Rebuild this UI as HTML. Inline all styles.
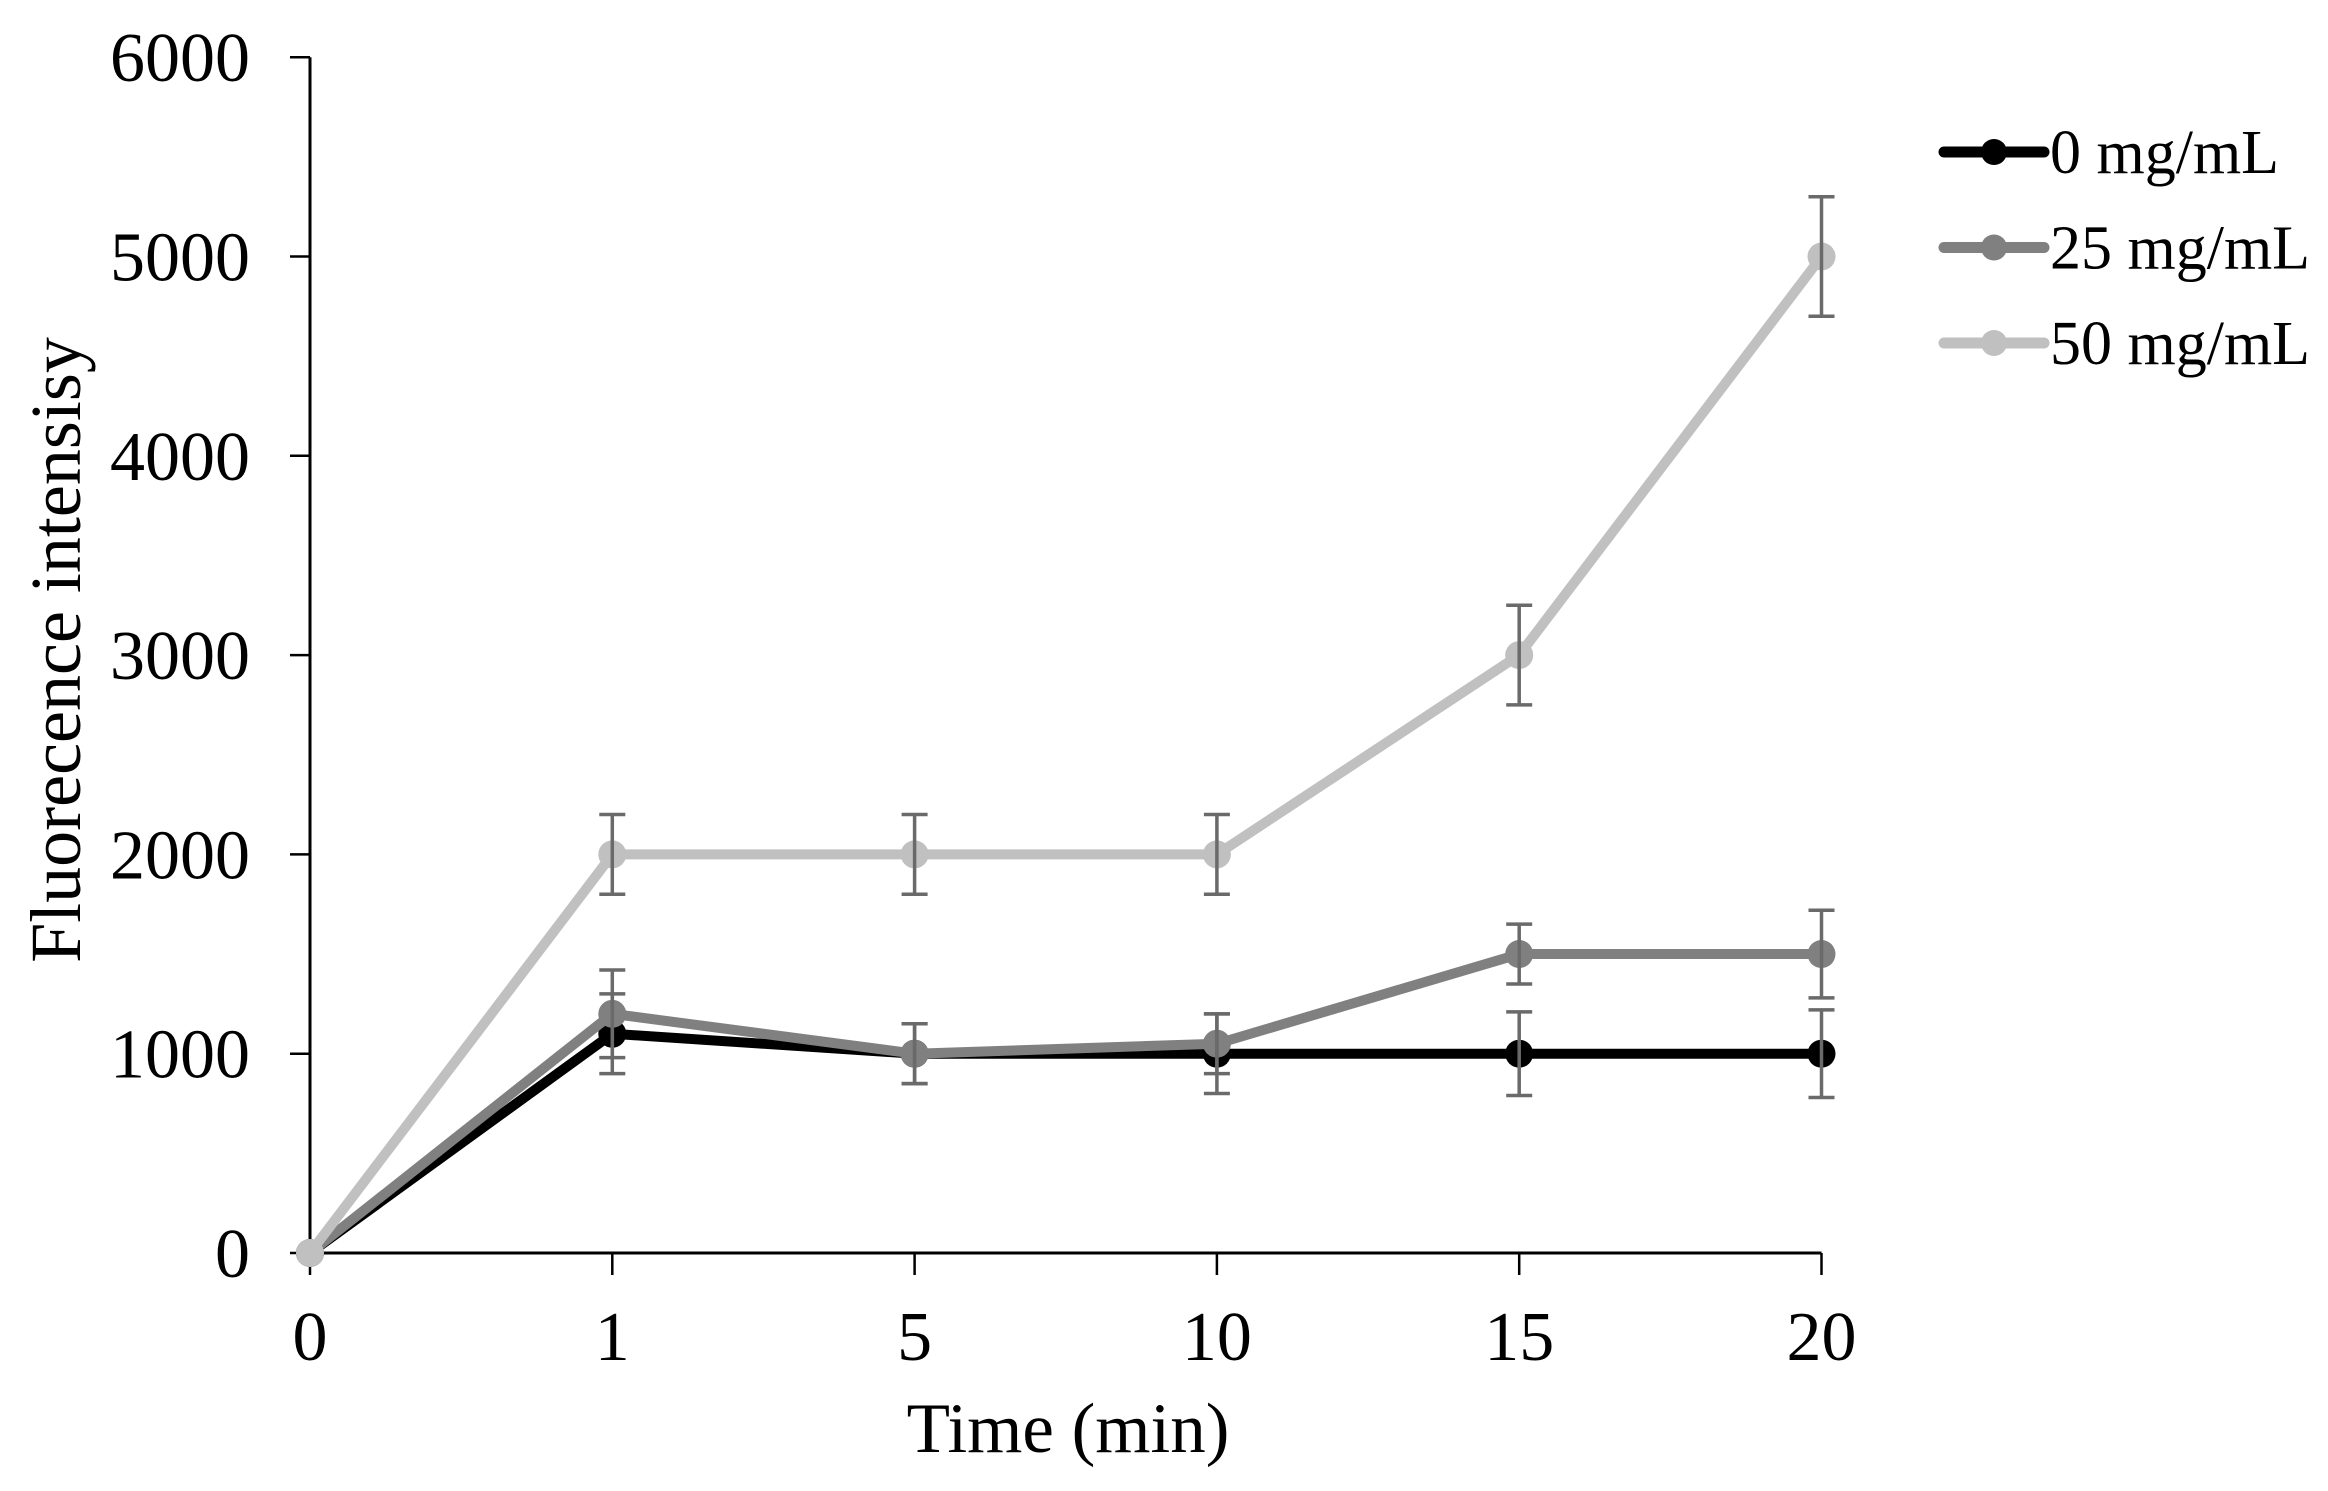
<!DOCTYPE html>
<html><head><meta charset="utf-8"><style>
html,body{margin:0;padding:0;background:#fff;}
svg{display:block;font-family:"Liberation Serif",serif;}
</style></head><body>
<svg id="chart" width="2328" height="1491" viewBox="0 0 2328 1491">
<g id="axes"></g><g id="series"></g><g id="legend"></g>
</svg>
<script>
const categories = ["0","1","5","10","15","20"];
const yTicks = [0,1000,2000,3000,4000,5000,6000];
const seriesNames = ["0 mg/mL","25 mg/mL","50 mg/mL"];
const seriesColors = ["#000000","#808080","#c0c0c0"];
const values0 = [0,1100,1000,1000,1000,1000];
const values25 = [0,1200,1000,1050,1500,1500];
const values50 = [0,2000,2000,2000,3000,5000];
const errors0 = [0,200,150,200,210,220];
const errors25 = [0,220,150,150,150,220];
const errors50 = [0,200,200,200,250,300];

const NS="http://www.w3.org/2000/svg";
const x0=310, dx=302.3, yBase=1253, yPer=199.3/1000;
function xs(i){return x0+i*dx;}
function ys(v){return yBase-v*yPer;}
function mk(tag,attrs,parent,text){const e=document.createElementNS(NS,tag);for(const k in attrs)e.setAttribute(k,attrs[k]);if(text!==undefined)e.textContent=text;parent.appendChild(e);return e;}
const axes=document.getElementById('axes');
let e;
e=mk('line',{x1:x0,y1:ys(6000),x2:x0,y2:yBase,stroke:'#000','stroke-width':3},axes);


e=mk('line',{x1:x0,y1:yBase,x2:xs(5),y2:yBase,stroke:'#000','stroke-width':3},axes);


yTicks.forEach(t=>{
  e=mk('line',{x1:x0-20,y1:ys(t),x2:x0,y2:ys(t),stroke:'#000','stroke-width':2.5},axes);
  
  
  e=mk('text',{x:250,y:ys(t)+24,'text-anchor':'end','font-size':70},axes,String(t));
  
  
});
categories.forEach((c,i)=>{
  e=mk('line',{x1:xs(i),y1:yBase,x2:xs(i),y2:yBase+22,stroke:'#000','stroke-width':2.5},axes);
  
  
  e=mk('text',{x:xs(i),y:1360,'text-anchor':'middle','font-size':70},axes,c);
  
  
});
e=mk('text',{x:1068,y:1452,'text-anchor':'middle','font-size':71},axes,'Time (min)');


e=mk('text',{x:0,y:0,'text-anchor':'middle','font-size':72,transform:'translate(80,650) rotate(-90)'},axes,'Fluorecence intensisy');



const allVals=[values0,values25,values50], allErr=[errors0,errors25,errors50];
const ser=document.getElementById('series');
allVals.forEach((vals,s)=>{
  const g=mk('g',{},ser);
  
  
  e=mk('polyline',{points:vals.map((v,i)=>xs(i)+','+ys(v)).join(' '),fill:'none',stroke:seriesColors[s],'stroke-width':10,'stroke-linejoin':'round'},g);
  
  
  vals.forEach((v,i)=>{
    e=mk('circle',{cx:xs(i),cy:ys(v),r:14,fill:seriesColors[s]},g);
    
    
  });
});
allVals.forEach((vals,s)=>{
  const g=mk('g',{stroke:'#6a6a6a','stroke-width':3.5,fill:'none'},ser);
  
  
  vals.forEach((v,i)=>{
    const er=allErr[s][i]; if(!er) return;
    const x=xs(i), t=ys(v+er), b=ys(v-er);
    e=mk('path',{d:`M${x},${t}V${b}M${x-13},${t}H${x+13}M${x-13},${b}H${x+13}`},g);
    
    
  });
});
const leg=document.getElementById('legend');
seriesNames.forEach((n,s)=>{
  const y=152+s*95.5;
  const g=mk('g',{},leg);
  
  
  e=mk('line',{x1:1944,y1:y,x2:2044,y2:y,stroke:seriesColors[s],'stroke-width':11,'stroke-linecap':'round'},g);
  
  
  e=mk('circle',{cx:1994,cy:y,r:13,fill:seriesColors[s]},g);
  
  
  e=mk('text',{x:2050,y:y+21,'font-size':62},g,n);
  
  
});
</script>
</body></html>
